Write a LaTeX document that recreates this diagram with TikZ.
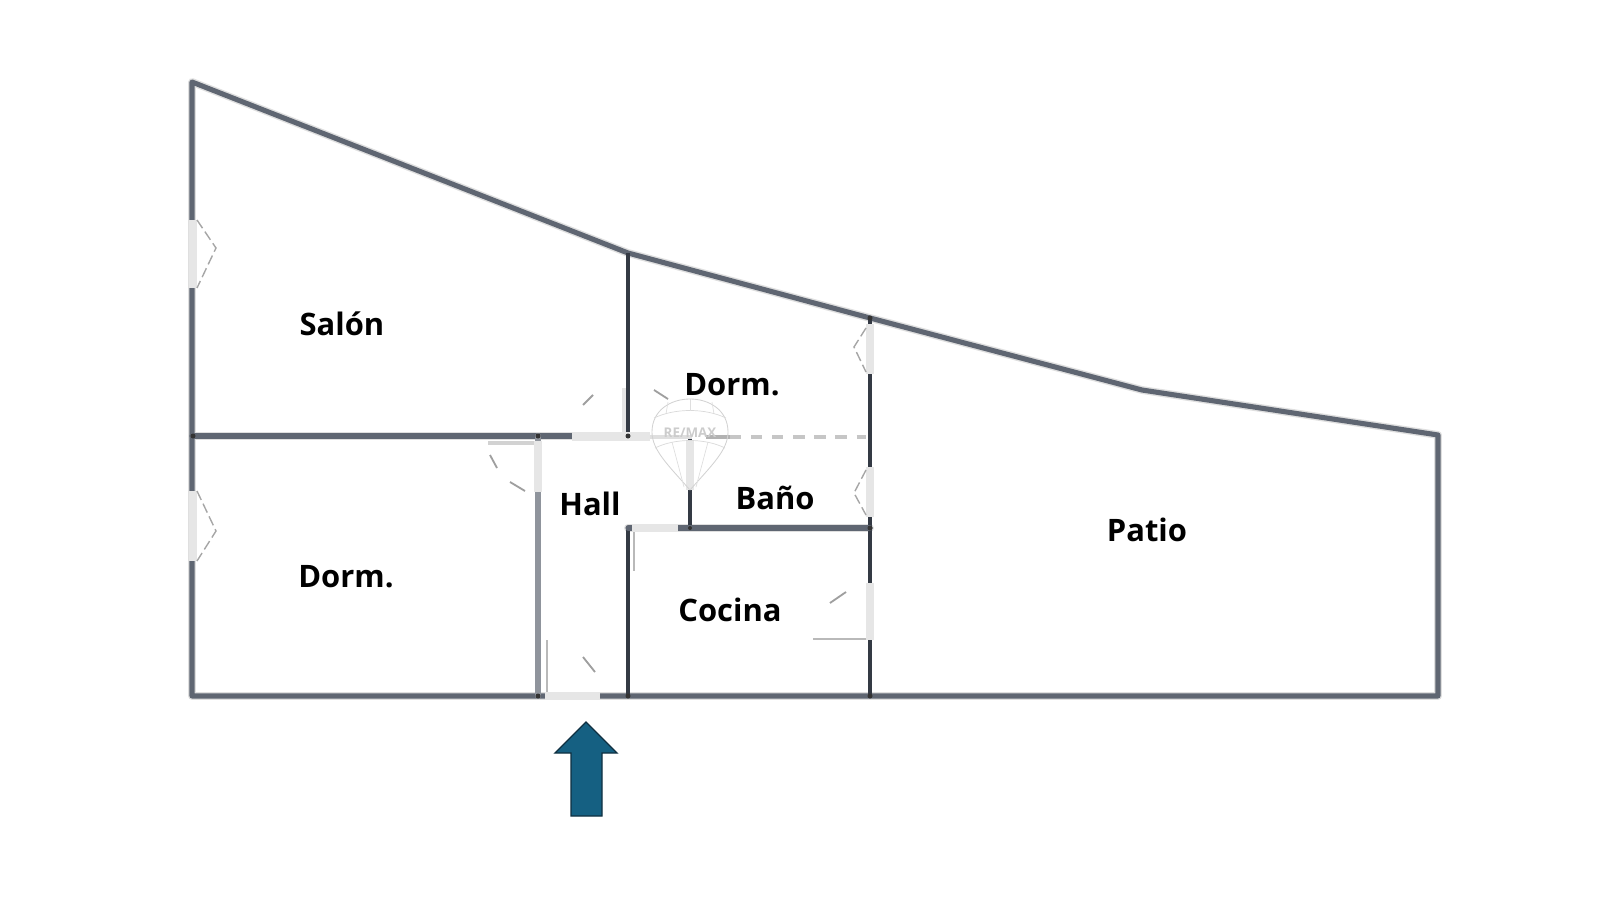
\documentclass[tikz,border=0pt]{standalone}
\usepackage{fontspec}
\setmainfont{Open Sans}
\usetikzlibrary{positioning}
\definecolor{wallgray}{HTML}{5F6672}
\definecolor{walldark}{HTML}{343A44}
\definecolor{doorgray}{HTML}{E6E6E6}
\definecolor{arrowblue}{HTML}{156082}
\definecolor{arrowedge}{HTML}{0F2F40}
\tikzset{
  x=0.025cm, y=-0.025cm,
  halo/.style={draw=gray!25, line width=5.6pt, line cap=round, line join=round},
  wall/.style={draw=wallgray, line width=3.6pt, line cap=round, line join=round},
  inner wall/.style={draw=walldark, line width=3.2pt},
  door/.style={fill=doorgray},
  leaf/.style={draw=gray!55, line width=1.4pt},
  ticks/.style={draw=gray!75, line width=1.3pt},
  swing/.style={draw=gray!70, line width=1pt, dash pattern=on 7pt off 3pt},
  joint/.style={fill=black!80},
  room/.style={font=\bfseries, scale=2.2}
}
\begin{document}
\begin{tikzpicture}
  \useasboundingbox (0,0) rectangle (1600,900);
  % Soft edge of the walls
  \draw[halo] (192,82) -- (628,253) -- (870,318) -- (1142,390) -- (1438,435) -- (1438,696) -- (192,696) -- cycle;
  \draw[halo] (192,436) -- (628,436);
  \draw[halo] (628,528) -- (870,528);
  % Outer walls
  \draw[wall] (192,82) -- (628,253) -- (870,318) -- (1142,390) -- (1438,435) -- (1438,696) -- (192,696) -- cycle;
  % Inner walls
  \draw[wall] (192,436) -- (628,436);
  \draw[wall, draw=wallgray!70, line width=4.2pt] (538,436) -- (538,696);
  \draw[inner wall] (628,253) -- (628,436);
  \draw[inner wall] (870,318) -- (870,696);
  \draw[inner wall] (628,528) -- (628,696);
  \draw[inner wall] (690,436) -- (690,528);
  \draw[wall] (628,528) -- (870,528);
  % Faded wall behind the watermark
  \draw[gray!25, line width=3.4pt] (650,437) -- (692,437);
  \draw[gray!60, line width=3.4pt] (706,437) -- (730,437);
  \draw[gray!45, line width=3.4pt, dash pattern=on 8pt off 7pt] (730,437) -- (866,437);
  % Doors
  \draw[door, draw=none] (189,220) rectangle (197,288);
  \draw[door, draw=none] (189,491) rectangle (197,561);
  \draw[door, draw=none] (866,324) rectangle (874,374);
  \draw[door, draw=none] (866,467) rectangle (874,517);
  \draw[door, draw=none] (866,583) rectangle (874,640);
  \draw[door, draw=none] (572,432) rectangle (650,441);
  \draw[door, draw=none] (686,441) rectangle (694,490);
  \draw[door, draw=none] (534,441) rectangle (542,492);
  \draw[door, draw=none] (632,524) rectangle (678,532);
  \draw[door, draw=none] (545,692) rectangle (600,700);
  % Door leaves
  \draw[leaf] (813,639) -- (866,639);
  \draw[leaf] (547,640) -- (547,692);
  \draw[leaf] (634,532) -- (634,571);
  \draw[leaf, draw=gray!35, line width=2.6pt] (488,443) -- (534,443);
  \draw[leaf, draw=gray!20, line width=2.6pt] (624,388) -- (624,432);
  % Door swings
  \draw[swing] (197,220) -- (216,248) -- (197,288);
  \draw[swing] (197,491) -- (216,531) -- (197,561);
  \draw[swing] (866,328) -- (854,347) -- (866,372);
  \draw[swing] (866,470) -- (854,493) -- (866,515);
  \draw[ticks] (830,603) -- (846,592);
  \draw[ticks] (583,657) -- (595,672);
  \draw[ticks] (583,405) -- (593,395);
  \draw[ticks] (654,390) -- (668,399);
  \draw[ticks] (510,482) -- (525,491);
  \draw[ticks] (490,455) -- (497,468);
  % Wall joints
  \fill[joint] (193,436) circle (2.5);
  \fill[joint] (538,436) circle (2.5);
  \fill[joint] (628,436) circle (2.5);
  \fill[joint] (538,696) circle (2.5);
  \fill[joint] (628,696) circle (2.5);
  \fill[joint] (870,696) circle (2.5);
  \fill[joint] (870,528) circle (2.5);
  \fill[joint] (870,318) circle (2.5);
  \fill[joint] (690,528) circle (2);
  % Watermark
  \draw[gray!35, line width=0.6pt] (690,490) .. controls (668,465) and (652,450) .. (652,432) .. controls (652,388) and (728,388) .. (728,432) .. controls (728,450) and (712,465) .. (690,490);
  \draw[gray!30, line width=0.5pt] (654,418) .. controls (675,408) and (705,408) .. (726,418);
  \draw[gray!30, line width=0.5pt] (655,448) .. controls (675,438) and (705,438) .. (725,448);
  \draw[gray!25, line width=0.5pt] (668,402) -- (666,414);
  \draw[gray!25, line width=0.5pt] (690,399) -- (690,411);
  \draw[gray!25, line width=0.5pt] (712,402) -- (714,414);
  \draw[gray!25, line width=0.5pt] (672,442) -- (684,487);
  \draw[gray!25, line width=0.5pt] (708,442) -- (696,487);
  \node[text=gray!40, font=\bfseries, scale=0.95] (logo) at (690,433) {RE/MAX};
  % Room names
  \node[room] (salon) at (342,324) {Salón};
  \node[room] (dormtop) at (732,385) {Dorm.};
  \node[room] (hall) at (590,504) {Hall};
  \node[room] (bano) at (775,498) {Baño};
  \node[room] (dormlow) at (346,577) {Dorm.};
  \node[room] (cocina) at (730,610) {Cocina};
  \node[room] (patio) at (1147,530) {Patio};
  % Entrance arrow
  \draw[fill=arrowblue, draw=arrowedge, line width=0.9pt] (586,722) -- (617,753) -- (602,753) -- (602,816) -- (571,816) -- (571,753) -- (555,753) -- cycle;
\end{tikzpicture}
\end{document}
